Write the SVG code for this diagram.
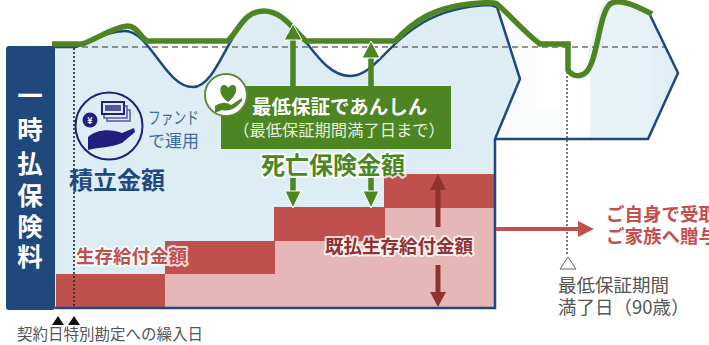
<svg xmlns="http://www.w3.org/2000/svg" width="709" height="345" viewBox="0 0 709 345">
<style>
text{font-family:"Noto Sans CJK JP","Noto Sans",sans-serif}
.side{fill:#fff;font-size:25.5px;font-weight:700;text-anchor:middle}
.dk{fill:#bf504e}.lt{fill:#e6b7b7}
.gs{fill:none;stroke:#4c8522;stroke-width:5.5}
.ga{fill:#4c8522}
.ra{stroke:#8f3232;stroke-width:5;fill:none}
.halo{paint-order:stroke;stroke:#fff;stroke-opacity:.8;stroke-width:4px;stroke-linejoin:round}
.gray{fill:#555;font-size:18.5px}
</style>
<defs>
<linearGradient id="fade" gradientUnits="userSpaceOnUse" x1="497" x2="678" y1="0" y2="0">
<stop offset="0" stop-color="#dcedf4" stop-opacity=".12"/>
<stop offset="0.51" stop-color="#dcedf4" stop-opacity=".12"/>
<stop offset="0.51" stop-color="#dcedf4" stop-opacity=".65"/>
<stop offset="0.8" stop-color="#dcedf4" stop-opacity=".7"/>
<stop offset="1" stop-color="#dcedf4"/>
</linearGradient>
</defs>
<g id="area">
<path d="M55 47L75 47C90 44 105 31 125 31C150 31 165 87 193 87C220 87 232 10 264 11C300 12 315 76 350 76C385 76 395 8 490 5L497 7L520 79L495 139V308H55Z" fill="#dcedf4"/>
<path d="M497 7L520 79L495 139H648L678 73L650 15C630 5 615 -2 605 2C590 20 590 76 575 76L540 44Z" fill="url(#fade)"/>
<rect x="537" y="47" width="24" height="60" fill="#fff"/>
<rect x="561" y="47" width="7" height="91" fill="#fff"/>
<rect x="568" y="76" width="22" height="62" fill="#fff"/>
</g>
<g id="steps">
<rect class="lt" x="165" y="274" width="331" height="33"/>
<rect class="lt" x="275" y="241" width="221" height="33"/>
<rect class="lt" x="385" y="208" width="111" height="33"/>
<rect class="dk" x="56" y="274" width="109" height="33"/>
<rect class="dk" x="165" y="241" width="110" height="33"/>
<rect class="dk" x="274" y="207" width="111" height="34"/>
<rect class="dk" x="384" y="174" width="112" height="34"/>
</g>
<g id="connectors">
<path d="M52 47H665" fill="none" stroke="#6e6e6e" stroke-width="1.6" stroke-dasharray="6 4"/>
<path d="M74 48V307" fill="none" stroke="#222" stroke-width="1.6" stroke-dasharray="2 2"/>
<path d="M567 72V255" fill="none" stroke="#555" stroke-width="1.6" stroke-dasharray="2 2"/>
<path d="M55 47L75 47C90 44 105 31 125 31C150 31 165 87 193 87C220 87 232 10 264 11C300 12 315 76 350 76C385 76 395 8 490 5L497 7L520 79L495 139V308H55M495 139H648L678 73L650 15" fill="none" stroke="#1f497d" stroke-width="2.5"/>
<path class="gs" d="M52 44H82C95 40 115 26 128 26C136 26 140 36 147 41H228C240 28 245 11 264 11C282 11 292 28 306 41H395C410 25 430 6 480 3C488 3 493 2 497 4C510 15 525 33 540 44H568V70C572 76 578 77 584 74C598 65 598 15 610 4C620 -3 640 8 652 14"/>
<path d="M293 90V36" class="gs"/><path class="ga" d="M293 24L284 40H302Z" stroke="#fff"/>
<path d="M371 90V55" class="gs"/><path class="ga" d="M371 41L362 58H380Z" stroke="#fff"/>
<path d="M293 178V194" class="gs"/><path class="ga" d="M293 208L285 191H301Z" stroke="#fff"/>
<path d="M371 178V194" class="gs"/><path class="ga" d="M371 208L363 191H379Z" stroke="#fff"/>
<path class="ra" d="M438 227V190"/><path fill="#8f3232" d="M438 174L430 190H446Z"/>
<path class="ra" d="M438 265V294"/><path fill="#8f3232" d="M438 307L430 292H446Z"/>
<path d="M496 229H580" stroke="#c4504e" stroke-width="4" fill="none"/><path fill="#c4504e" d="M594 229L578 221V237Z"/>
</g>
<g id="side-label">
<rect x="6" y="46" width="49" height="264" rx="3" fill="#1f497d"/>
<text class="side" x="30" y="105">一</text>
<text class="side" x="30" y="139">時</text>
<text class="side" x="30" y="173">払</text>
<text class="side" x="30" y="205">保</text>
<text class="side" x="30" y="236">険</text>
<text class="side" x="30" y="266">料</text>
</g>
<g id="fund-icon">
<circle cx="109" cy="126" r="33.500" fill="none" stroke="#1f1f7f" stroke-width="2"/>
<circle cx="90" cy="120" r="7.500" fill="#1f1f7f"/>
<text x="90" y="123.500" fill="#fff" font-size="9" font-weight="700" text-anchor="middle">¥</text>
<rect x="107" y="110" width="23" height="11" fill="#dcedf4" stroke="#55559f" stroke-width="1.500"/>
<rect x="104" y="106" width="23" height="12" fill="#dcedf4" stroke="#55559f" stroke-width="1.500"/>
<rect x="102" y="102" width="22" height="12" fill="#dcedf4" stroke="#1f1f7f" stroke-width="2"/>
<rect x="105" y="105" width="16" height="6" fill="#55559f"/>
<path d="M88 150V137C98 129 110 129 122 133L134 128L135 132L122 143C110 148 100 147 88 150Z" fill="#1f1f7f"/>
<text x="148" y="124" fill="#3f6a97" font-size="17" textLength="51" lengthAdjust="spacingAndGlyphs">ファンド</text>
<text x="148" y="147" fill="#3f6a97" font-size="17">で運用</text>
<text x="69" y="189" fill="#1f497d" font-size="24" font-weight="700">積立金額</text>
</g>
<g id="guarantee">
<rect x="221" y="86" width="230" height="63" fill="#4c8522"/>
<circle cx="226" cy="95" r="21" fill="#fff" stroke="#5f8a3e" stroke-width="2"/>
<path d="M228 102C218 95 219 85 224 85C226 85 228 87 228 88C229 87 230 85 233 85C238 85 238 95 228 102Z" fill="#4c8522"/>
<path d="M215 113V106C222 102 226 102 231 105L242 98V101C236 108 230 112 222 110Z" fill="#4c8522"/>
<text x="252" y="114" fill="#fff" font-size="19.500" font-weight="700">最低保証であんしん</text>
<text x="339" y="136" fill="#e8f0dc" font-size="16.300" text-anchor="middle">（最低保証期間満了日まで）</text>
</g>
<g id="labels">
<text class="halo" x="261" y="174" fill="#4c8522" font-size="24" font-weight="700">死亡保険金額</text>
<text class="halo" x="76" y="263" fill="#bf504e" font-size="18.500" font-weight="700">生存給付金額</text>
<text class="halo" x="325" y="252.500" fill="#8f3232" font-size="18.500" font-weight="700">既払生存給付金額</text>
<text x="606" y="221" fill="#c4504e" font-size="18.500" font-weight="700">ご自身で受取</text>
<text x="606" y="243" fill="#c4504e" font-size="18.500" font-weight="700">ご家族へ贈与</text>
<path d="M52 325L58 316L64 325ZM68 325L74 316L80 325Z" fill="#111"/>
<text x="17" y="340" fill="#555" font-size="15.500">契約日特別勘定への繰入日</text>
<path d="M560 269L568 257L576 269Z" fill="#fff" stroke="#666"/>
<text class="gray" x="558" y="291.500">最低保証期間</text>
<text class="gray" x="558" y="314">満了日（90歳）</text>
</g>
</svg>
